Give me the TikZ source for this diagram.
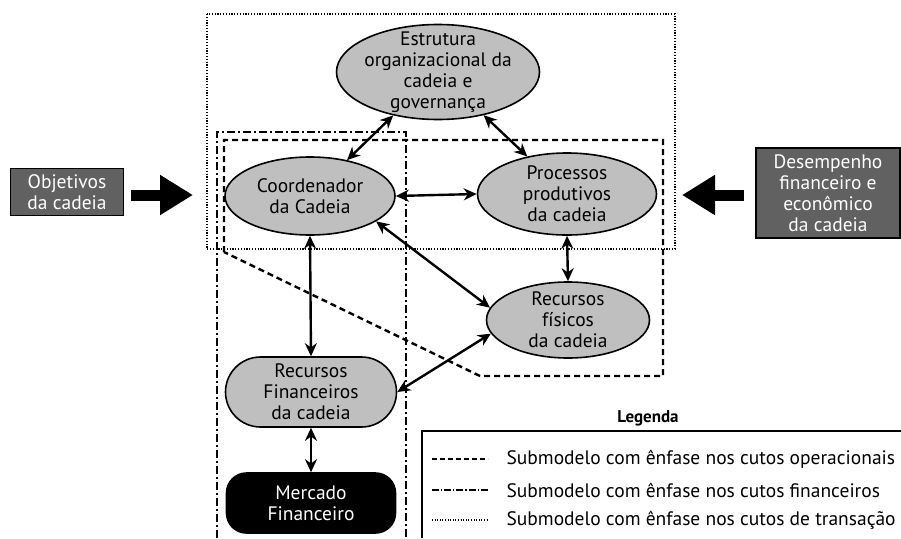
\documentclass[tikz,border=0pt]{standalone}
\usepackage{fontspec}
\setmainfont{PT Sans}
\usetikzlibrary{arrows,arrows.meta,shapes.geometric}
\definecolor{cinza}{gray}{0.75}
\definecolor{escuro}{gray}{0.38}
\tikzset{
	elo/.style = {ellipse, draw=black, fill=cinza, line width=1.6pt, align=center,
		inner sep=-10pt},% elo da cadeia
	recurso/.style = {rectangle, draw=black, line width=1.6pt, align=center,
		inner sep=0pt},% caixa arredondada
	entrada/.style = {rectangle, draw=black, fill=escuro, text=white,
		line width=1.6pt, align=center},% caixas laterais
	seta/.style = {{Stealth[length=13pt,width=12pt]}-{Stealth[length=13pt,width=12pt]},
		line width=2.4pt},% ligacao entre elos
	grande/.style = {-{Triangle[length=33pt,width=38pt]}, line width=11pt},
	opera/.style = {line width=2.4pt, dash pattern=on 6pt off 4pt},% operacionais
	finan/.style = {line width=2.6pt, dash pattern=on 8pt off 3pt on 2pt off 3pt},% financeiros
	trans/.style = {line width=2pt, dash pattern=on 1.2pt off 1.6pt}% transacao
}

\begin{document}
\begin{tikzpicture}[x=1pt, y=-1pt, font={\fontsize{19.5}{21}\selectfont}]
\useasboundingbox (0,0) rectangle (901,538);

% submodelos
\draw[trans] (207,14) rectangle (675,249);
\draw[finan] (217,538) -- (217,132) -- (406,132) -- (406,538);
\draw[opera] (224,252) -- (224,140) -- (663,140) -- (663,376) -- (480,376) -- cycle;

% elos
\node [elo, minimum width=203pt, minimum height=95pt] (estr) at (438,72)
	{Estrutura\\organizacional da\\cadeia e\\governança};
\node [elo, minimum width=170pt, minimum height=78pt] (coord) at (310,196)
	{Coordenador\\da Cadeia};
\node [elo, minimum width=179pt, minimum height=82pt] (proc) at (567,194)
	{Processos\\produtivos\\da cadeia};
\node [elo, minimum width=163pt, minimum height=76pt] (fis) at (568,320)
	{Recursos\\físicos\\da cadeia};
\node [recurso, fill=cinza, rounded corners=35pt, minimum width=171pt,
	minimum height=70pt] (fin) at (311,392)
	{Recursos\\Financeiros\\da cadeia};
\node [recurso, fill=black, text=white, rounded corners=20pt,
	minimum width=169pt, minimum height=60pt] (merc) at (311,503)
	{Mercado\\Financeiro};

% entradas
\node [entrada, minimum width=113pt, minimum height=47pt] (obj) at (67,192)
	{Objetivos\\da cadeia};
\node [entrada, minimum width=144pt, minimum height=90pt] (des) at (828,193)
	{Desempenho\\financeiro e\\econômico\\da cadeia};
\coordinate (objseta) at (193,195);
\coordinate (desseta) at (682,195);
\draw[grande] ([xshift=7pt]obj.east |- objseta) -- (objseta);
\draw[grande] ([xshift=-11pt]des.west |- desseta) -- (desseta);

% ligacoes
\draw[seta] (estr) -- (coord);
\draw[seta] (estr) -- (proc);
\draw[seta] (coord.east) -- (proc.west);
\draw[seta] (coord.-21) -- (fis.171);
\draw[seta] (coord.south) -- (fin.north);
\draw[seta] (proc.south) -- (fis.north);
\draw[seta] (fin.east) -- (fis.190);
\draw[seta] (fin.south) -- (merc.north);

% legenda
\node [font={\fontsize{17}{20}\selectfont\bfseries}] (leg) at (648,418) {Legenda};
\draw[line width=1.4pt] (422,538) -- (422,431) -- (901,431);
\coordinate (l1a) at (432,459); \coordinate (l1b) at (488,459);
\coordinate (l2a) at (432,490); \coordinate (l2b) at (488,490);
\coordinate (l3a) at (432,520); \coordinate (l3b) at (488,520);
\draw[line width=1.4pt, dash pattern=on 5pt off 3pt] (l1a) -- (l1b);
\draw[line width=1.4pt, dash pattern=on 7pt off 2pt on 1.2pt off 2pt] (l2a) -- (l2b);
\draw[line width=1.4pt, dash pattern=on 1pt off 1.6pt] (l3a) -- (l3b);
\node [anchor=west] (t1) at (503,459) {Submodelo com ênfase nos cutos operacionais};
\node [anchor=west] (t2) at (503,490) {Submodelo com ênfase nos cutos financeiros};
\node [anchor=west] (t3) at (503,520) {Submodelo com ênfase nos cutos de transação};
\end{tikzpicture}
\end{document}
